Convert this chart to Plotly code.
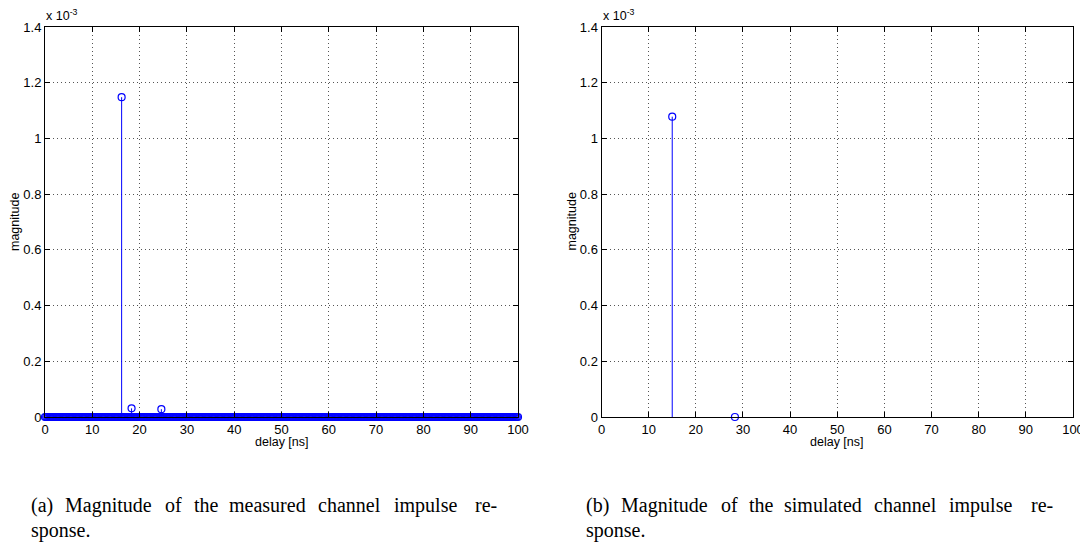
import numpy as np
import plotly.graph_objects as go

# ---------------- data ----------------
# (a) measured channel impulse response
meas_peak_delay = [16.2, 18.3, 24.6]            # ns
meas_peak_mag = [1.148e-3, 0.031e-3, 0.028e-3]  # magnitude
meas_zero_delay = np.arange(0, 100 + 1e-9, 0.25)  # remaining samples (zero magnitude)
meas_zero_mag = [0.0] * len(meas_zero_delay)

# (b) simulated channel impulse response
sim_delay = [15.0, 28.3]
sim_mag = [1.078e-3, 0.0]

x_ticks = [0, 10, 20, 30, 40, 50, 60, 70, 80, 90, 100]
y_ticks = [0, 0.2e-3, 0.4e-3, 0.6e-3, 0.8e-3, 1.0e-3, 1.2e-3, 1.4e-3]
y_tick_text = ["0", "0.2", "0.4", "0.6", "0.8", "1", "1.2", "1.4"]

caption_a = ["(a)", "Magnitude", "of", "the", "measured", "channel", "impulse", "re-"]
caption_a2 = "sponse."
caption_b = ["(b)", "Magnitude", "of", "the", "simulated", "channel", "impulse", "re-"]
caption_b2 = "sponse."

# ---------------- layout helpers ----------------
# the page body has an 8px margin, so the figure is placed 8px in from the window corner
OFF = 8
W, H = 1088 - OFF, 546 - OFF
def px(x):
    return (x - OFF) / W
def py(y):
    return (H - (y - OFF)) / H

BLUE = "rgb(0,0,255)"
SANS = "Liberation Sans, Arial, sans-serif"
TICKFONT = dict(family=SANS, size=13, color="black")

def stem_xy(d, m):
    xs, ys = [], []
    for a, b in zip(d, m):
        xs += [a, a, None]
        ys += [0, b, None]
    return xs, ys

fig = go.Figure()

mk = dict(symbol="circle-open", size=7, color=BLUE, line=dict(width=1.2))

# measured: zero samples (dense circles forming the band)
fig.add_trace(go.Scatter(x=meas_zero_delay, y=meas_zero_mag, mode="markers", marker=mk,
                         cliponaxis=False, xaxis="x", yaxis="y", showlegend=False, hoverinfo="skip"))
sx, sy = stem_xy(meas_peak_delay, meas_peak_mag)
fig.add_trace(go.Scatter(x=sx, y=sy, mode="lines", line=dict(color=BLUE, width=1),
                         xaxis="x", yaxis="y", showlegend=False))
fig.add_trace(go.Scatter(x=meas_peak_delay, y=meas_peak_mag, mode="markers", marker=mk,
                         cliponaxis=False, xaxis="x", yaxis="y", showlegend=False))

# simulated
sx, sy = stem_xy(sim_delay, sim_mag)
fig.add_trace(go.Scatter(x=sx, y=sy, mode="lines", line=dict(color=BLUE, width=1),
                         xaxis="x2", yaxis="y2", showlegend=False))
fig.add_trace(go.Scatter(x=sim_delay, y=sim_mag, mode="markers", marker=mk,
                         cliponaxis=False, xaxis="x2", yaxis="y2", showlegend=False))

grid = dict(showgrid=True, gridcolor="#555", griddash="1px,3px", gridwidth=1)
common_x = dict(range=[0, 100], tickvals=x_ticks, ticktext=[str(v) for v in x_ticks],
                showline=True, linecolor="black", linewidth=1, mirror="ticks",
                ticks="inside", ticklen=5, tickcolor="black", tickfont=TICKFONT,
                zeroline=False, fixedrange=True, automargin=False, **grid)
common_y = dict(range=[0, 1.4e-3], tickvals=y_ticks, ticktext=y_tick_text,
                showline=True, linecolor="black", linewidth=1, mirror="ticks",
                ticks="inside", ticklen=5, tickcolor="black", tickfont=TICKFONT,
                zeroline=False, fixedrange=True, automargin=False, **grid)

ydom = [py(417), py(27)]
fig.update_layout(
    template="none",
    width=W, height=H, autosize=False,
    margin=dict(l=0, r=0, t=0, b=0, pad=0),
    paper_bgcolor="white", plot_bgcolor="white",
    xaxis=dict(domain=[px(45), px(518)], anchor="y", **common_x),
    yaxis=dict(domain=ydom, anchor="x", **common_y),
    xaxis2=dict(domain=[px(601.5), px(1073)], anchor="y2", **common_x),
    yaxis2=dict(domain=ydom, anchor="x2", **common_y),
)

ann = []
for x0, x1 in [(45, 518), (601.5, 1073)]:
    ann.append(dict(text="delay [ns]", x=px((x0 + x1) / 2), y=py(442), xref="paper", yref="paper",
                    xanchor="center", yanchor="middle", showarrow=False,
                    font=dict(family=SANS, size=12.5, color="black")))
    ann.append(dict(text="magnitude", x=px(x0 - 30), y=py(222), xref="paper", yref="paper",
                    xanchor="center", yanchor="middle", showarrow=False, textangle=-90,
                    font=dict(family=SANS, size=12.5, color="black")))
    ann.append(dict(text="x 10<sup>-3</sup>", x=px(x0 - 1), y=py(15), xref="paper", yref="paper",
                    xanchor="left", yanchor="middle", showarrow=False,
                    font=dict(family=SANS, size=12.5, color="black")))

cap_font = dict(family="Liberation Serif, Times New Roman, serif", size=20, color="black")
pos_a = [29, 63, 163, 192, 227, 316, 392, 473]
pos_b = [584, 619, 719, 747, 782, 872, 947, 1029]
for words, poss, line2, x2 in [(caption_a, pos_a, caption_a2, 29), (caption_b, pos_b, caption_b2, 584)]:
    for w, xp in zip(words, poss):
        ann.append(dict(text=w, x=px(xp), y=py(505), xref="paper", yref="paper",
                        xanchor="left", yanchor="middle", showarrow=False, font=cap_font))
    ann.append(dict(text=line2, x=px(x2), y=py(530), xref="paper", yref="paper",
                    xanchor="left", yanchor="middle", showarrow=False, font=cap_font))

fig.update_layout(annotations=ann)
fig.write_html("out.html")
